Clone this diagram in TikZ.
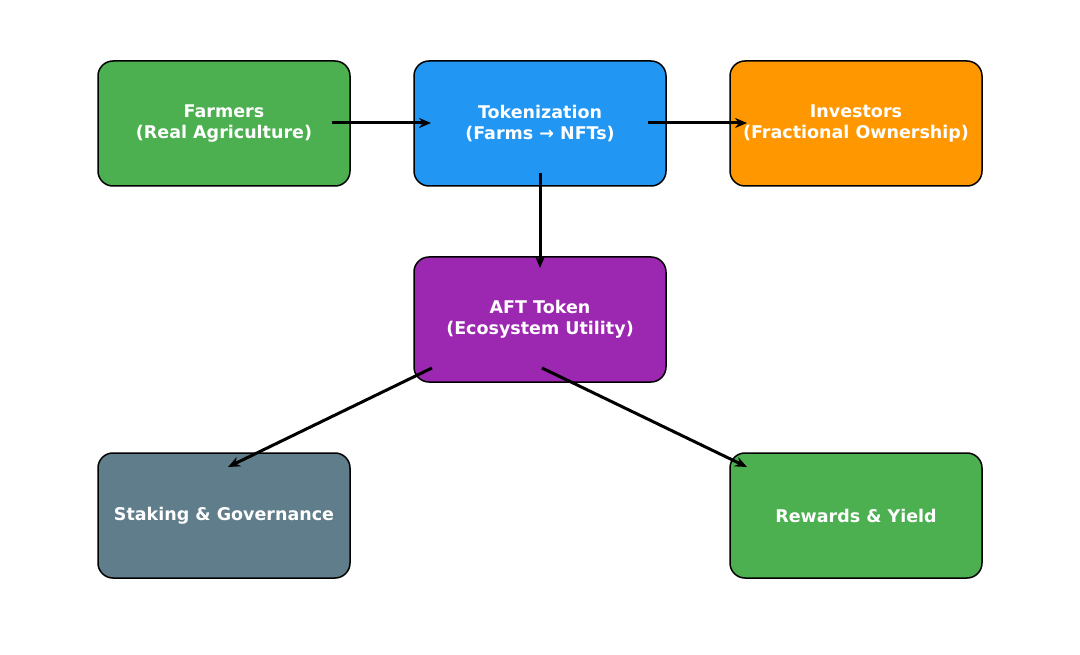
\documentclass[tikz,border=0pt]{standalone}
\usepackage{fontspec}
\setmainfont{DejaVu Sans}
\usetikzlibrary{arrows.meta}
\definecolor{cgreen}{HTML}{4CAF50}
\definecolor{cblue}{HTML}{2196F3}
\definecolor{corange}{HTML}{FF9800}
\definecolor{cpurple}{HTML}{9C27B0}
\definecolor{cgrey}{HTML}{607D8B}
\begin{document}
\begin{tikzpicture}[x=1pt,y=-1pt,
  box/.style={draw=black,line width=1.5pt,rounded corners=15pt,minimum width=252pt,minimum height=125pt,text=white,font=\bfseries\fontsize{17.5}{21}\selectfont,align=center,inner sep=0pt},
  arr/.style={line width=3pt,-{Stealth[length=12pt,width=10pt]}}]
\useasboundingbox (0,0) rectangle (1080,655);
\node[box,fill=cgreen] (farm) at (224,123.5) {Farmers\\(Real Agriculture)};
\node[box,fill=cblue] (tok) at (540,123.5) {Tokenization\\(Farms → NFTs)};
\node[box,fill=corange] (inv) at (856,123.5) {Investors\\(Fractional Ownership)};
\node[box,fill=cpurple] (aft) at (540,319.5) {AFT Token\\(Ecosystem Utility)};
\node[box,fill=cgrey] (stk) at (224,515.5) {Staking \& Governance};
\node[box,fill=cgreen] (rew) at (856,515.5) {Rewards \& Yield};
\coordinate (a1) at (332,123); \coordinate (a2) at (431,123);
\coordinate (b1) at (648,123); \coordinate (b2) at (747,123);
\coordinate (c1) at (540,173); \coordinate (c2) at (540,268);
\coordinate (d1) at (432,368); \coordinate (d2) at (228,467);
\coordinate (e1) at (542,368); \coordinate (e2) at (747,467);
\draw[arr] (a1) -- (a2);
\draw[arr] (b1) -- (b2);
\draw[arr] (c1) -- (c2);
\draw[arr] (d1) -- (d2);
\draw[arr] (e1) -- (e2);
\end{tikzpicture}
\end{document}
